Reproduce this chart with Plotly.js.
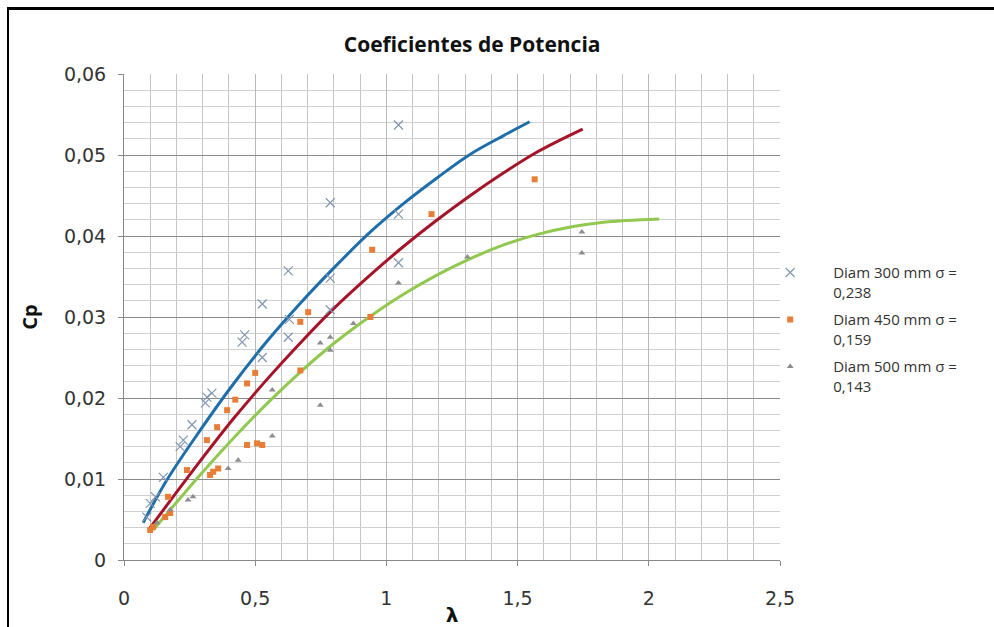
<!DOCTYPE html>
<html>
<head>
<meta charset="utf-8">
<script src="https://cdn.plot.ly/plotly-3.0.1.min.js"></script>
<style>
html,body{margin:0;padding:0;background:#fff;}
#wrap{position:relative;width:994px;height:627px;overflow:hidden;}
#chart{position:absolute;left:0;top:0;width:994px;height:627px;}
#frame{position:absolute;left:7px;top:7px;width:1100px;height:800px;border-left:2px solid #000;border-top:3px solid #000;pointer-events:none;}
</style>
</head>
<body>
<div id="wrap"><div id="chart"></div><div id="frame"></div></div>
<script>
// Measured points: Diam 300 mm (x markers)
const lam300 = [0.087,0.10,0.12,0.15,0.214,0.226,0.259,0.31,0.316,0.335,0.45,0.46,0.527,0.527,0.626,0.626,0.63,0.786,0.786,0.786,1.046,1.046,1.046];
const cp300  = [0.0053,0.0070,0.0078,0.0102,0.0140,0.0148,0.0167,0.0194,0.0201,0.0206,0.0269,0.0278,0.0316,0.0250,0.0357,0.0275,0.0297,0.0441,0.0348,0.0309,0.0537,0.0427,0.0367];
// Diam 450 mm (squares)
const lam450 = [0.10,0.111,0.157,0.168,0.176,0.24,0.328,0.34,0.359,0.316,0.355,0.393,0.424,0.469,0.50,0.469,0.507,0.527,0.672,0.672,0.702,0.939,0.946,1.172,1.565];
const cp450  = [0.0037,0.0041,0.0053,0.0078,0.0058,0.0111,0.0105,0.0109,0.0113,0.0148,0.0164,0.0185,0.0198,0.0218,0.0231,0.0142,0.0144,0.0142,0.0234,0.0294,0.0306,0.0300,0.0383,0.0427,0.0470];
// Diam 500 mm (triangles)
const lam500 = [0.126,0.176,0.244,0.263,0.397,0.435,0.565,0.565,0.748,0.748,0.786,0.786,0.874,1.046,1.309,1.745,1.745];
const cp500  = [0.0046,0.0062,0.0074,0.0078,0.0113,0.0123,0.0153,0.0210,0.0191,0.0268,0.0275,0.0259,0.0292,0.0342,0.0374,0.0379,0.0405];
// Trend curves
const lamT300 = [0.073,0.164,0.29,0.416,0.545,0.672,0.798,0.939,1.065,1.194,1.32,1.447,1.546];
const cpT300  = [0.0046,0.0099,0.0160,0.0217,0.0270,0.0317,0.0360,0.0405,0.0440,0.0472,0.0501,0.0524,0.0541];
const lamT450 = [0.093,0.29,0.416,0.545,0.672,0.798,0.939,1.065,1.194,1.32,1.447,1.576,1.748];
const cpT450  = [0.0037,0.0122,0.0174,0.0223,0.0268,0.0310,0.0352,0.0387,0.0420,0.0450,0.0478,0.0504,0.0532];
const lamT500 = [0.111,0.29,0.416,0.545,0.672,0.798,0.939,1.065,1.194,1.32,1.447,1.576,1.702,1.828,2.04];
const cpT500  = [0.0037,0.0105,0.0150,0.0193,0.0232,0.0267,0.0301,0.0328,0.0352,0.0372,0.0389,0.0402,0.0411,0.0417,0.0421];

const names = ['Diam 300 mm σ =<br>0,238','Diam 450 mm σ =<br>0,159','Diam 500 mm σ =<br>0,143'];

const traces = [
  {x:lamT300,y:cpT300,mode:'lines',line:{color:'rgb(31,110,170)',width:3,shape:'spline',smoothing:1},showlegend:false,hoverinfo:'skip'},
  {x:lamT450,y:cpT450,mode:'lines',line:{color:'rgb(165,20,40)',width:3,shape:'spline',smoothing:1},showlegend:false,hoverinfo:'skip'},
  {x:lamT500,y:cpT500,mode:'lines',line:{color:'rgb(146,200,80)',width:3,shape:'spline',smoothing:1},showlegend:false,hoverinfo:'skip'},
  {x:lam300,y:cp300,mode:'markers',name:names[0],legendgroup:'g1',marker:{symbol:'x-thin-open',size:9,line:{color:'rgb(130,150,175)',width:1.2},color:'rgb(130,150,175)'}},
  {x:lam450,y:cp450,mode:'markers',name:names[1],legendgroup:'g2',marker:{symbol:'square',size:6,color:'rgb(232,125,55)'}},
  {x:lam500,y:cp500,mode:'markers',name:names[2],legendgroup:'g3',marker:{symbol:'triangle-up',size:6,color:'rgb(140,140,145)'}}
];

const layout = {
  width:994,height:627,
  separators:', ',
  paper_bgcolor:'#fff',plot_bgcolor:'#fff',
  margin:{l:124,r:214,t:74,b:67},
  font:{family:'DejaVu Sans, sans-serif',color:'#222'},
  title:{text:'<b>Coeficientes de Potencia</b>',font:{family:'Open Sans, sans-serif',size:21,color:'#111'},x:0.475,xanchor:'center',y:0.928,yanchor:'middle'},
  xaxis:{range:[0,2.5],dtick:0.5,tick0:0,showgrid:true,gridcolor:'#b8b8b8',gridwidth:1,
    minor:{dtick:0.1,showgrid:true,gridcolor:'#c4c4c4',gridwidth:1},
    zeroline:false,showline:true,linecolor:'#888',linewidth:1,ticks:'outside',ticklen:5,tickcolor:'#888',
    tickfont:{size:19,color:'#333'},ticklabelstandoff:16,
    title:{text:'<b>λ</b>',font:{size:20,color:'#111'},standoff:0}},
  yaxis:{range:[0,0.06],dtick:0.01,tick0:0,showgrid:true,gridcolor:'#8a8a8a',gridwidth:1,
    minor:{dtick:0.002,showgrid:true,gridcolor:'#d0d0d0',gridwidth:1},
    zeroline:false,showline:true,linecolor:'#888',linewidth:1,ticks:'outside',ticklen:5,tickcolor:'#888',
    tickfont:{size:19,color:'#333'},ticklabelstandoff:8,
    title:{text:'<b>Cp</b>',font:{family:'Open Sans, sans-serif',size:20,color:'#111'},standoff:20}},
  legend:{x:0.950,xanchor:'left',y:0.625,yanchor:'top',valign:'top',font:{family:'Open Sans, sans-serif',size:15,color:'#333'},
    bgcolor:'rgba(0,0,0,0)',itemwidth:76,tracegroupgap:5}
};

Plotly.newPlot('chart',traces,layout,{displayModeBar:false,staticPlot:true});
</script>
</body>
</html>
